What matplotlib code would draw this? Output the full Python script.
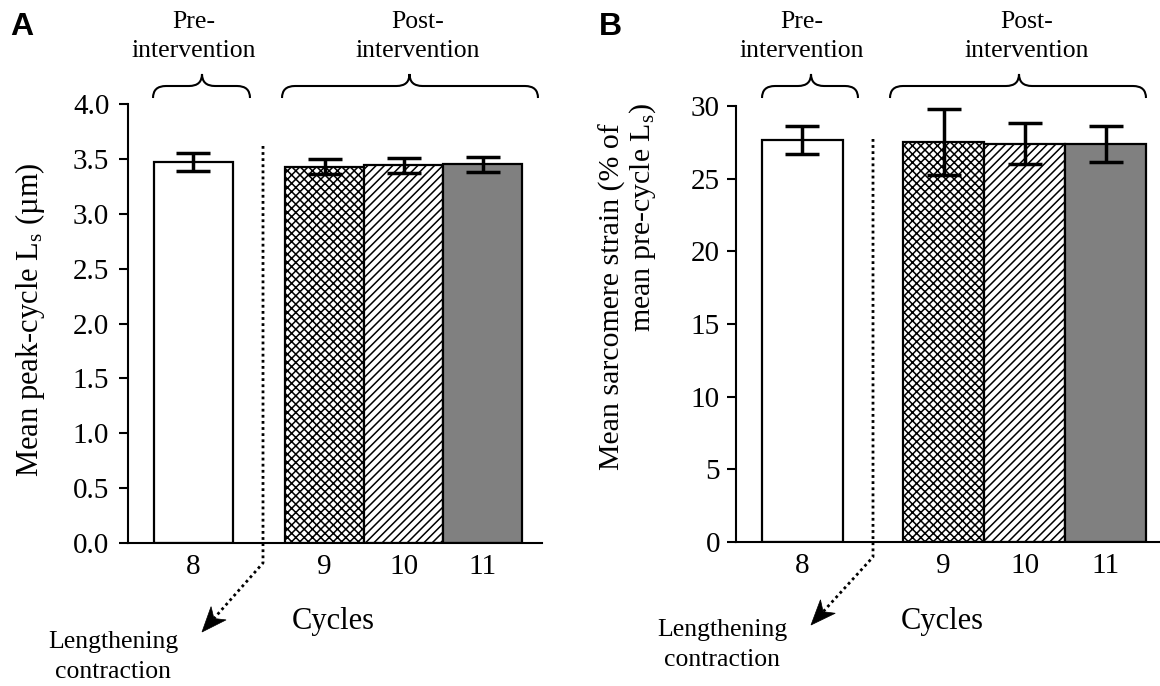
import math
import matplotlib
matplotlib.use("Agg")
import matplotlib.pyplot as plt
from matplotlib.path import Path
from matplotlib.patches import PathPatch, Polygon
from matplotlib.lines import Line2D

plt.rcParams['font.family'] = ['Liberation Serif', 'DejaVu Serif']
plt.rcParams['mathtext.fontset'] = 'custom'
plt.rcParams['mathtext.rm'] = 'Liberation Serif'
plt.rcParams['mathtext.it'] = 'Liberation Serif:italic'
plt.rcParams['hatch.linewidth'] = 1.1

# ---------------- data ----------------
cycles = ['8', '9', '10', '11']
phase = ['pre', 'post', 'post', 'post']

peak_ls_mean = [3.47, 3.43, 3.44, 3.45]      # um
peak_ls_err = [0.08, 0.068, 0.068, 0.07]

strain_mean = [27.65, 27.5, 27.4, 27.4]      # % of mean pre-cycle Ls
strain_err = [0.95, 2.27, 1.4, 1.23]

a_yticks = [0.0, 0.5, 1.0, 1.5, 2.0, 2.5, 3.0, 3.5, 4.0]
b_yticks = [0, 5, 10, 15, 20, 25, 30]

# ---------------- styling ----------------
faces = ['white', 'white', 'white', '#808080']
hatches = [None, 'xxxx', '////', None]
TICK_FS = 21
LAB_FS = 22
ANN_FS = 18.5

W, H = 1160, 686
fig = plt.figure(figsize=(W / 100, H / 100), dpi=100)


def fx(x):
    return x / W


def fy(y):
    return 1 - y / H


def make_axes(l, r, b, t):
    return fig.add_axes([fx(l), fy(b), fx(r) - fx(l), fy(t) - fy(b)])


def draw_bars(ax, means, errs, gap, capsize):
    xs = [i + (gap if phase[i] == 'post' else 0) for i in range(len(cycles))]
    for i, x in enumerate(xs):
        ax.bar(x, means[i], width=1.0, color=faces[i], edgecolor='black',
               linewidth=1.6, hatch=hatches[i], zorder=2)
    ax.errorbar(xs, means, yerr=errs, fmt='none', ecolor='black',
                elinewidth=2.5, capsize=capsize, capthick=2.5, zorder=3)
    ax.set_xticks(xs)
    ax.set_xticklabels(cycles)
    return xs


def style_axes(ax, yticks, fmt, pad):
    for s in ['top', 'right']:
        ax.spines[s].set_visible(False)
    for s in ['left', 'bottom']:
        ax.spines[s].set_linewidth(1.5)
    ax.set_yticks(yticks)
    ax.set_yticklabels([fmt.format(v) for v in yticks])
    ax.tick_params(axis='y', direction='out', length=6.5, width=1.5,
                   labelsize=TICK_FS, pad=pad)
    ax.tick_params(axis='x', length=0, labelsize=TICK_FS, pad=8)
    ax.patch.set_alpha(0)


def brace(x0, x1, xm, yb=98, yh=86, yc=74, r=13):
    pts = [(x0, yb), (x0, yh), (x0 + r, yh),
           (xm - r, yh),
           (xm, yh), (xm, yc),
           (xm, yh), (xm + r, yh),
           (x1 - r, yh),
           (x1, yh), (x1, yb)]
    codes = [Path.MOVETO, Path.CURVE3, Path.CURVE3,
             Path.LINETO,
             Path.CURVE3, Path.CURVE3,
             Path.CURVE3, Path.CURVE3,
             Path.LINETO,
             Path.CURVE3, Path.CURVE3]
    verts = [(fx(x), fy(y)) for x, y in pts]
    fig.add_artist(PathPatch(Path(verts, codes), fill=False, lw=1.5,
                             edgecolor='black', transform=fig.transFigure))


def group_text(xc, line1, line2):
    fig.text(fx(xc), fy(22), line1, ha='center', va='center', fontsize=ANN_FS)
    fig.text(fx(xc), fy(51), line2, ha='center', va='center', fontsize=ANN_FS)


def dotted_arrow(xv, ytop, ybend, xtip, ytip):
    dx, dy = xtip - xv, ytip - ybend
    L = math.hypot(dx, dy)
    ux, uy = dx / L, dy / L
    px, py = -uy, ux
    hl, hw, notch = 25, 10, 7
    bx, by = xtip - ux * hl, ytip - uy * hl
    nx, ny = xtip - ux * (hl - notch), ytip - uy * (hl - notch)
    fig.add_artist(Line2D([fx(xv), fx(xv), fx(nx)],
                          [fy(ytop), fy(ybend), fy(ny)],
                          ls=(0, (1, 1.2)), lw=2.0, color='black',
                          transform=fig.transFigure))
    head = [(xtip, ytip), (bx + px * hw, by + py * hw), (nx, ny),
            (bx - px * hw, by - py * hw)]
    fig.add_artist(Polygon([(fx(x), fy(y)) for x, y in head], closed=True,
                           facecolor='black', edgecolor='black', lw=0.5,
                           transform=fig.transFigure))


def rot_text(x, y, s, fs=LAB_FS):
    fig.text(fx(x), fy(y), s, rotation=90, rotation_mode='anchor',
             ha='center', va='baseline', fontsize=fs)


# ---------------- panel A ----------------
axA = make_axes(128, 542, 543, 104)
draw_bars(axA, peak_ls_mean, peak_ls_err, gap=0.666, capsize=12.2)
axA.set_xlim(-0.823, -0.823 + 414 / 79)
axA.set_ylim(0, 4.0)
style_axes(axA, a_yticks, '{:.1f}', pad=7)

rot_text(38, 320, 'Mean peak-cycle L$_\\mathrm{s}$ (\u00b5m)')
fig.text(fx(333), fy(622), 'Cycles', ha='center', va='center', fontsize=LAB_FS)
fig.text(fx(113), fy(642), 'Lengthening', ha='center', va='center', fontsize=ANN_FS)
fig.text(fx(113), fy(672), 'contraction', ha='center', va='center', fontsize=ANN_FS)
fig.text(fx(10), fy(27), 'A', ha='left', va='center', fontsize=23,
         fontweight='bold', family='Liberation Sans')

brace(153, 250, 202)
brace(282, 538, 409.5)
group_text(194, 'Pre-', 'intervention')
group_text(418, 'Post-', 'intervention')
dotted_arrow(263, 146, 563, 202, 632)

# ---------------- panel B ----------------
axB = make_axes(736, 1160, 542, 106)
draw_bars(axB, strain_mean, strain_err, gap=0.742, capsize=12.2)
axB.set_xlim(-0.82, -0.82 + 424 / 81)
axB.set_ylim(0, 30)
style_axes(axB, b_yticks, '{:d}', pad=5)

rot_text(620, 297, 'Mean sarcomere strain (% of', fs=21.5)
rot_text(650, 218, 'mean pre-cycle L$_\\mathrm{s}$)', fs=21.5)
fig.text(fx(942), fy(622), 'Cycles', ha='center', va='center', fontsize=LAB_FS)
fig.text(fx(722), fy(630), 'Lengthening', ha='center', va='center', fontsize=ANN_FS)
fig.text(fx(722), fy(660), 'contraction', ha='center', va='center', fontsize=ANN_FS)
fig.text(fx(599), fy(27), 'B', ha='left', va='center', fontsize=23,
         fontweight='bold', family='Liberation Sans')

brace(762, 858, 811)
brace(890, 1146, 1019)
group_text(802, 'Pre-', 'intervention')
group_text(1027, 'Post-', 'intervention')
dotted_arrow(873, 139, 557, 811, 625)

fig.savefig('out.png', dpi=100, facecolor='white')
